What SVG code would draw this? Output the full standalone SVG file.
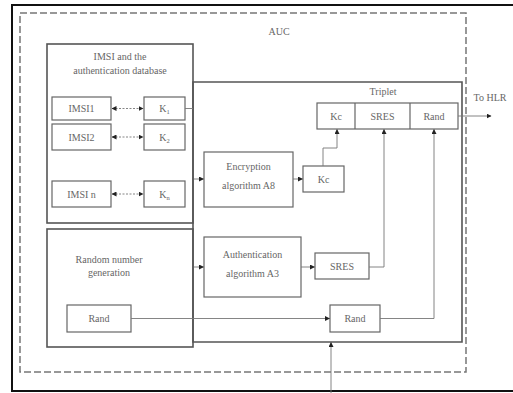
<svg xmlns="http://www.w3.org/2000/svg" width="513" height="393" viewBox="0 0 513 393">
<style>
text{font-family:"Liberation Serif","Times New Roman",serif;font-size:10px;fill:#666;text-anchor:middle}
.box{fill:none;stroke:#666;stroke-width:1.2}
.big{fill:none;stroke:#555;stroke-width:1.6}
.ln{fill:none;stroke:#777;stroke-width:0.9}
.dl{fill:none;stroke:#777;stroke-width:0.9;stroke-dasharray:2,1.5}
.frame{fill:none;stroke:#111;stroke-width:2}
.auc{fill:none;stroke:#777;stroke-width:1.5;stroke-dasharray:7,3}
</style>
<defs>
<marker id="ah" viewBox="0 0 10 10" refX="9" refY="5" markerWidth="5" markerHeight="5" orient="auto-start-reverse" markerUnits="userSpaceOnUse">
<path d="M0,0 L10,5 L0,10 z" fill="#222"/>
</marker>
</defs>
<rect width="513" height="393" fill="#fff"/>
<g id="frame"><path class="frame" d="M513,5 H12 V391 H513"/></g>
<g id="auc"><rect class="auc" x="20" y="13" width="446" height="359"/><text x="279" y="35">AUC</text></g>
<g id="database">
<rect class="big" x="47" y="44" width="146" height="179"/>
<text x="120" y="60">IMSI and the</text>
<text x="120" y="74">authentication database</text>
</g>
<g id="imsi1"><rect class="box" x="52" y="97" width="59" height="23"/><text x="81.5" y="112">IMSI1</text></g>
<g id="imsi2"><rect class="box" x="52" y="124" width="59" height="26"/><text x="81.5" y="141">IMSI2</text></g>
<g id="imsin"><rect class="box" x="52" y="181" width="59" height="26"/><text x="81.5" y="198">IMSI n</text></g>
<g id="k1"><rect class="box" x="144" y="97" width="41" height="23"/><text x="164.5" y="112">K<tspan font-size="6.5" dy="2">1</tspan></text></g>
<g id="k2"><rect class="box" x="144" y="124" width="41" height="26"/><text x="164.5" y="141">K<tspan font-size="6.5" dy="2">2</tspan></text></g>
<g id="kn"><rect class="box" x="144" y="181" width="41" height="26"/><text x="164.5" y="198">K<tspan font-size="6.5" dy="2">n</tspan></text></g>
<g id="random">
<rect class="big" x="47" y="229" width="146" height="118"/>
<text x="109" y="263">Random number</text>
<text x="109" y="276">generation</text>
</g>
<g id="rand1"><rect class="box" x="67" y="305" width="64" height="27"/><text x="99" y="322">Rand</text></g>
<g id="tripletbox">
<path class="big" d="M193,82 H462 V342 H193 Z"/>
<text x="383" y="95">Triplet</text>
</g>
<g id="triplet">
<rect class="box" x="317" y="103" width="141" height="26"/>
<path class="box" d="M355,103 V129 M410,103 V129"/>
<text x="336" y="120">Kc</text>
<text x="382.5" y="120">SRES</text>
<text x="434" y="120">Rand</text>
</g>
<g id="a8"><rect class="box" x="204" y="152" width="89" height="55"/><text x="248.5" y="170">Encryption</text><text x="248.5" y="189">algorithm A8</text></g>
<g id="kc"><rect class="box" x="303" y="166" width="41" height="26"/><text x="323.5" y="183">Kc</text></g>
<g id="a3"><rect class="box" x="204" y="237" width="97" height="60"/><text x="252.5" y="258">Authentication</text><text x="252.5" y="277">algorithm A3</text></g>
<g id="sres"><rect class="box" x="315" y="253" width="54" height="26"/><text x="342" y="270">SRES</text></g>
<g id="rand2"><rect class="box" x="330" y="305" width="50" height="27"/><text x="355" y="322">Rand</text></g>
<g id="hlr"><text x="490" y="101">To HLR</text></g>
<g id="connectors">
<path class="dl" d="M112,108.5 H143" marker-start="url(#ah)" marker-end="url(#ah)"/>
<path class="dl" d="M112,137 H143" marker-start="url(#ah)" marker-end="url(#ah)"/>
<path class="dl" d="M112,194 H143" marker-start="url(#ah)" marker-end="url(#ah)"/>
<path class="ln" d="M185,108.5 H193"/>
<path class="ln" d="M194,179 H203.5" marker-end="url(#ah)"/>
<path class="ln" d="M293,179 H302.5" marker-end="url(#ah)"/>
<path class="ln" d="M323,166 V148 H337 V129.5" marker-end="url(#ah)"/>
<path class="ln" d="M194,267 H203.5" marker-end="url(#ah)"/>
<path class="ln" d="M301,267 H314.5" marker-end="url(#ah)"/>
<path class="ln" d="M369,267 H384 V129.5" marker-end="url(#ah)"/>
<path class="ln" d="M131,318.5 H329.5" marker-end="url(#ah)"/>
<path class="ln" d="M380,318.5 H434 V129.5" marker-end="url(#ah)"/>
<path class="ln" d="M458,116 H491" marker-end="url(#ah)"/>
<path class="ln" d="M331,393 V342.5" marker-end="url(#ah)"/>
</g>
</svg>
